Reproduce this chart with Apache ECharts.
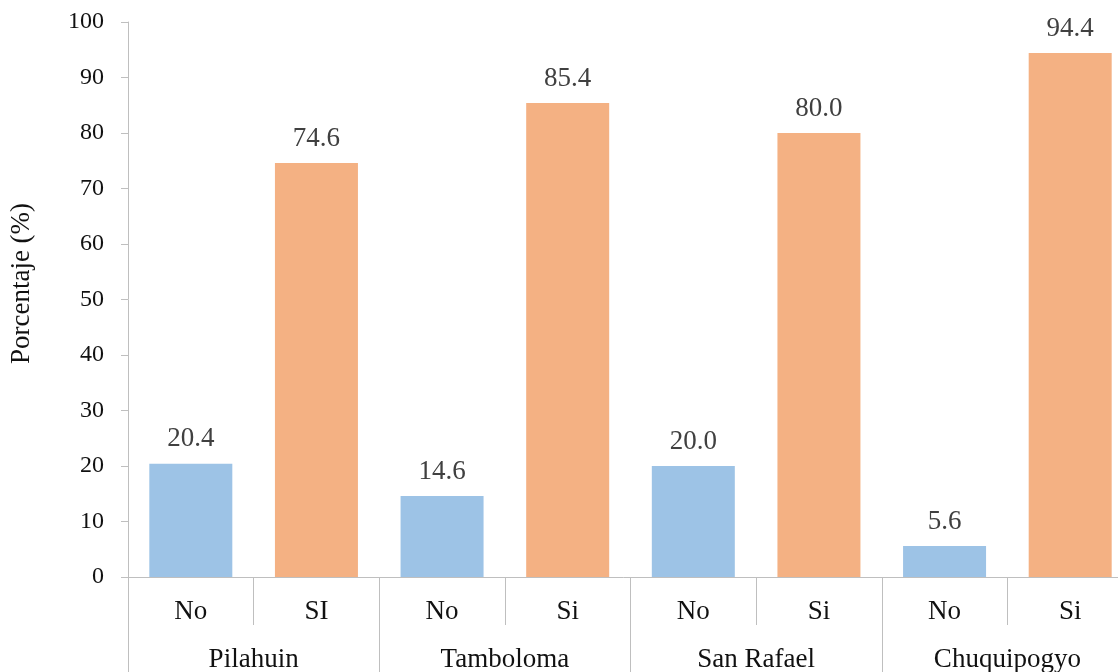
<!DOCTYPE html>
<html>
<head>
<meta charset="utf-8">
<script src="https://cdn.jsdelivr.net/npm/echarts@6/dist/echarts.min.js"></script>
<style>
  html, body { margin: 0; padding: 0; background: #fff; }
  #chart { width: 1118px; height: 672px; }
</style>
</head>
<body>
<div id="chart"></div>
<script>
// Responses per community, as percentages
const communities = ['Pilahuin', 'Tamboloma', 'San Rafael', 'Chuquipogyo'];
const answers = ['No', 'SI', 'No', 'Si', 'No', 'Si', 'No', 'Si'];
const values = [20.4, 74.6, 14.6, 85.4, 20.0, 80.0, 5.6, 94.4];
const yTicks = [0, 100, 10];

const BLUE = '#9DC3E6';
const ORANGE = '#F4B183';
const AXIS = '#BFBFBF';
const FONT = '"Liberation Serif", "DejaVu Serif", serif';
const TEXT = 27;

const chart = echarts.init(document.getElementById('chart'));
chart.setOption({
  animation: false,
  grid: { left: 128, width: 1005, top: 22, bottom: 95, outerBoundsMode: 'none', containLabel: false },
  xAxis: [
    {
      type: 'category',
      data: answers,
      position: 'bottom',
      axisLine: { show: true, lineStyle: { color: AXIS, width: 1 } },
      axisTick: { show: true, length: 48, alignWithLabel: false, lineStyle: { color: AXIS } },
      axisLabel: { margin: 21, fontFamily: FONT, fontSize: TEXT, color: '#111' }
    },
    {
      type: 'category',
      data: communities,
      position: 'bottom',
      axisLine: { show: false },
      axisTick: { show: true, length: 100, alignWithLabel: false, lineStyle: { color: AXIS } },
      axisLabel: { margin: 69, fontFamily: FONT, fontSize: TEXT, color: '#111' }
    }
  ],
  yAxis: {
    type: 'value',
    min: yTicks[0],
    max: yTicks[1],
    interval: yTicks[2],
    name: 'Porcentaje (%)',
    nameLocation: 'middle',
    nameGap: 93,
    nameRotate: 90,
    nameTextStyle: { fontFamily: FONT, fontSize: TEXT, color: '#111', padding: [0, 0, 0, 32] },
    axisLine: { show: true, lineStyle: { color: AXIS } },
    axisTick: { show: true, length: 7, lineStyle: { color: AXIS } },
    splitLine: { show: false },
    axisLabel: { margin: 24, fontFamily: FONT, fontSize: 24, color: '#111' }
  },
  series: [{
    type: 'bar',
    data: values,
    xAxisIndex: 0,
    barWidth: 83,
    itemStyle: {
      color: p => (p.dataIndex % 2 === 0 ? BLUE : ORANGE)
    },
    label: {
      show: true,
      position: 'top',
      distance: 11,
      formatter: p => p.value.toFixed(1),
      fontFamily: FONT,
      fontSize: TEXT,
      color: '#404040'
    }
  }]
});
</script>
</body>
</html>
